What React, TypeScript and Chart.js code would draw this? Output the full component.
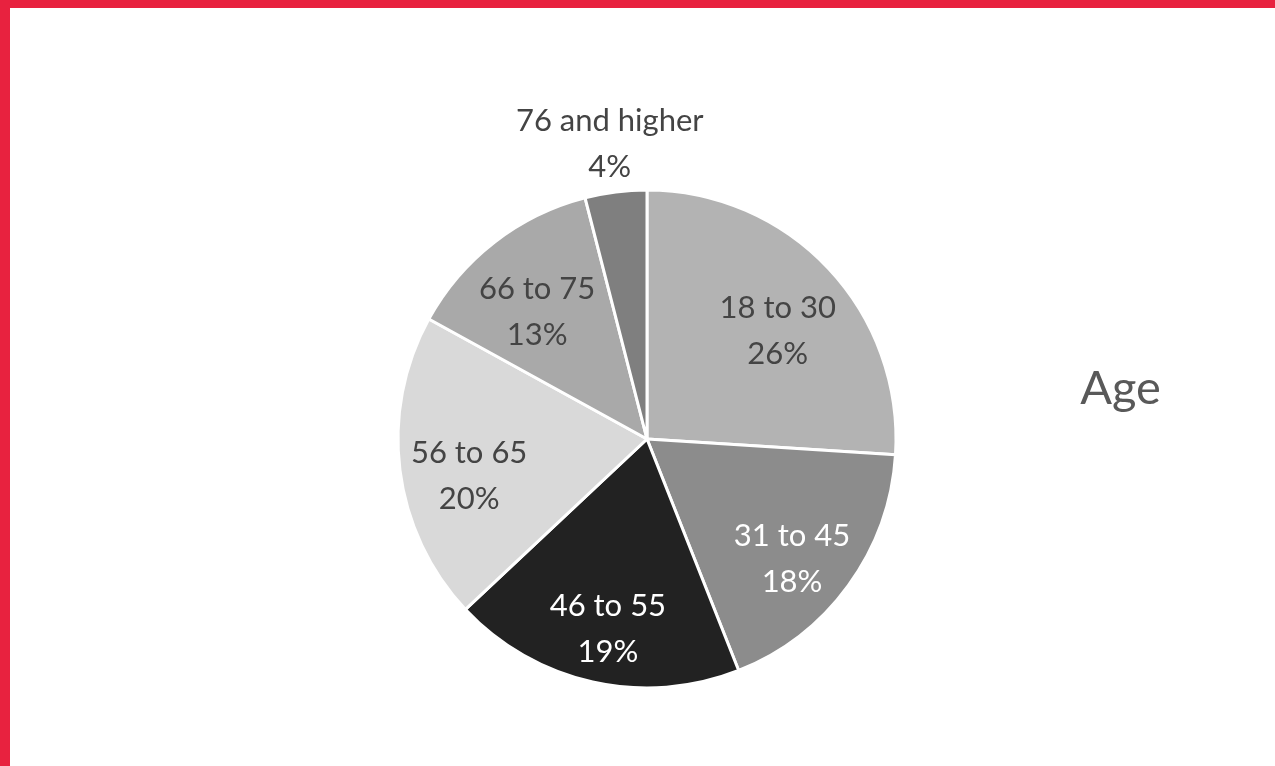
import React, { useEffect, useRef } from "react";
import { Chart, registerables } from "chart.js";

Chart.register(...registerables);

const categories = ["18 to 30", "31 to 45", "46 to 55", "56 to 65", "66 to 75", "76 and higher"];
const shares = [26, 18, 19, 20, 13, 4];
const sliceColors = ["#b3b3b3", "#8c8c8c", "#222222", "#d9d9d9", "#a9a9a9", "#7f7f7f"];
const labelColors = ["#444444", "#ffffff", "#ffffff", "#444444", "#444444", "#444444"];
const chartTitle = "Age";

const FONT = "Lato, 'Noto Sans', sans-serif";

const labelPlugin = {
  id: "sliceLabels",
  afterDraw(chart: any) {
    const ctx = chart.ctx;
    const meta = chart.getDatasetMeta(0);
    ctx.save();
    ctx.textAlign = "center";
    ctx.textBaseline = "middle";
    ctx.font = `31px ${FONT}`;
    meta.data.forEach((arc: any, i: number) => {
      const p = arc.getProps(["x", "y", "startAngle", "endAngle", "outerRadius"], true);
      const mid = (p.startAngle + p.endAngle) / 2;
      const value = shares[i];
      let dist = p.outerRadius * 0.72;
      let shift = 15;
      let color = labelColors[i];
      if (value < 5) {
        dist = p.outerRadius + 48;
        shift = 0;
        color = "#444444";
      }
      const x = p.x + Math.cos(mid) * dist;
      const y = p.y + Math.sin(mid) * dist + shift;
      ctx.fillStyle = color;
      ctx.fillText(categories[i], x, y - 23);
      ctx.fillText(`${value}%`, x, y + 23);
    });
    // title
    ctx.fillStyle = "#595959";
    ctx.font = `400 47px ${FONT}`;
    const ca = chart.chartArea;
    ctx.fillText(chartTitle, ca.right + 223, meta.data[0].y - 50);
    ctx.restore();
  },
};

export default function App() {
  const ref = useRef<HTMLCanvasElement>(null);
  useEffect(() => {
    if (!ref.current) return;
    const chart = new Chart(ref.current, {
      type: "pie",
      data: {
        labels: categories,
        datasets: [
          {
            data: shares,
            backgroundColor: sliceColors,
            borderColor: "#ffffff",
            borderWidth: 3,
          },
        ],
      },
      options: {
        responsive: false,
        animation: false,
        layout: { padding: { top: 180.5, bottom: 76.5, left: 386.5, right: 377.5 } },
        plugins: {
          legend: { display: false },
          tooltip: { enabled: false },
          title: { display: false },
        },
      },
      plugins: [labelPlugin],
    });
    return () => chart.destroy();
  }, []);
  return (
    <div
      style={{
        position: "fixed",
        left: 0,
        top: 0,
        width: 1275,
        height: 766,
        boxSizing: "border-box",
        borderTop: "8px solid #e8223f",
        borderLeft: "10px solid #e8223f",
        background: "#ffffff",
        overflow: "hidden",
      }}
    >
      <canvas ref={ref} width={1265} height={758} style={{ display: "block" }} />
    </div>
  );
}
